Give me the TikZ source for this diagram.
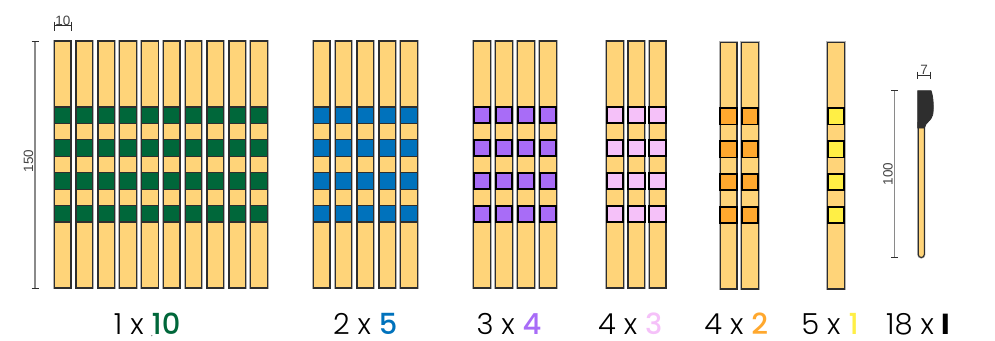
\documentclass[tikz,border=0pt]{standalone}
\usepackage{fontspec}
\setmainfont{Liberation Sans}
\newfontfamily\lblfont{Poppins}[UprightFont=* Light, BoldFont=* Medium]
\newfontfamily\lblIfont{Poppins}[UprightFont=* Bold]
\definecolor{stripY}{HTML}{FFD479}
\definecolor{bandG}{HTML}{00673A}
\definecolor{bandB}{HTML}{0072BC}
\definecolor{bandP}{HTML}{A86CF7}
\definecolor{bandK}{HTML}{F5C1F9}
\definecolor{bandO}{HTML}{FFA82E}
\definecolor{bandY}{HTML}{FFEF45}
\definecolor{edgeC}{HTML}{2E2E2E}
\definecolor{dimC}{HTML}{8A8A8A}
\definecolor{dimT}{HTML}{444444}
\newcommand{\mystrip}[6]{%
  \pgfmathsetmacro{\stripU}{(#3-#2)/150}%
  \draw[stripbody] (#1,#2) rectangle ({#1+16.6},#3);
  \foreach \kk in {40,60,80,100}{%
    \draw[fill=#4,draw=#5,line width=#6] (#1,{#2+\kk*\stripU}) rectangle ({#1+16.6},{#2+(\kk+10)*\stripU});
  }%
}
\begin{document}
\begin{tikzpicture}[x=1pt,y=-1pt,
  stripbody/.style={fill=stripY,draw=edgeC,line width=1.3pt,preaction={draw=black!30,line width=2.6pt}},
  dimline/.style={draw=dimC,line width=1.2pt},
  dimtick/.style={draw=edgeC,line width=0.9pt},
  dimtext/.style={text=dimT,font=\fontsize{13.5}{13.5}\selectfont,inner sep=0.5pt},
  lbltext/.style={font=\lblfont\fontsize{29}{30}\selectfont,inner sep=0pt,anchor=base,text depth=0pt}]
\useasboundingbox (0,0) rectangle (995,340);

% group 1: 1 x 10
\foreach \i in {0,...,9}{\mystrip{54.3+21.82*\i}{41}{288}{bandG}{edgeC}{1.3pt}}
% group 2: 2 x 5
\foreach \i in {0,...,4}{\mystrip{313.3+21.85*\i}{41}{288}{bandB}{edgeC}{1.3pt}}
% group 3: 3 x 4
\foreach \i in {0,...,3}{\mystrip{473.7+22*\i}{41}{288}{bandP}{black}{1.8pt}}
% group 4: 4 x 3
\foreach \i in {0,...,2}{\mystrip{606.7+21.3*\i}{41}{288}{bandK}{black}{1.8pt}}
% group 5: 4 x 2
\foreach \i in {0,...,1}{\mystrip{720.3+21.4*\i}{42.3}{289}{bandO}{black}{1.8pt}}
% group 6: 5 x 1
\mystrip{827.7}{42.3}{289}{bandY}{black}{1.8pt}

% spatula
\draw[fill=stripY,draw=edgeC,line width=1.1pt,preaction={draw=black!30,line width=2.2pt}]
  (918.3,122) -- (918.3,254.5) arc[start angle=180,end angle=0,radius=3] -- (924.3,122);
\draw[fill=edgeC,draw=edgeC,line width=0.8pt]
  (917.7,90.7) -- (931,90.7) .. controls (933.5,97) and (933.8,110) .. (932.6,115)
  .. controls (931.2,121) and (925.5,122) .. (924.3,128) -- (917.7,128) -- cycle;

% dimension 150
\coordinate (d150a) at (35,41);
\coordinate (d150b) at (35,288);
\coordinate (d150aL) at (31.5,41);
\coordinate (d150aR) at (38.5,41);
\coordinate (d150bL) at (31.5,288);
\coordinate (d150bR) at (38.5,288);
\draw[dimline] (d150a) -- (d150b);
\draw[dimtick] (d150aL) -- (d150aR);
\draw[dimtick] (d150bL) -- (d150bR);
\node[dimtext,rotate=90] (t150) at (28.5,161) {150};

% dimension 10
\coordinate (d10a) at (54.3,25.5);
\coordinate (d10b) at (71.7,25.5);
\coordinate (d10aT) at (54.3,21.5);
\coordinate (d10aB) at (54.3,30.5);
\coordinate (d10bT) at (71.7,21.5);
\coordinate (d10bB) at (71.7,30.5);
\draw[dimline,draw=edgeC,line width=0.8pt] (d10a) -- (d10b);
\draw[dimtick] (d10aT) -- (d10aB);
\draw[dimtick] (d10bT) -- (d10bB);
\node[dimtext,anchor=south] (t10) at (63,26) {10};

% dimension 100
\coordinate (d100a) at (894.3,90.7);
\coordinate (d100b) at (894.3,257.3);
\coordinate (d100aL) at (891,90.7);
\coordinate (d100aR) at (897.6,90.7);
\coordinate (d100bL) at (891,257.3);
\coordinate (d100bR) at (897.6,257.3);
\draw[dimline] (d100a) -- (d100b);
\draw[dimtick] (d100aL) -- (d100aR);
\draw[dimtick] (d100bL) -- (d100bR);
\node[dimtext,rotate=90] (t100) at (888,174) {100};

% dimension 7
\coordinate (d7a) at (917.3,75);
\coordinate (d7b) at (930,75);
\coordinate (d7aT) at (917.3,71.5);
\coordinate (d7aB) at (917.3,79);
\coordinate (d7bT) at (930,71.5);
\coordinate (d7bB) at (930,79);
\draw[dimline,draw=edgeC,line width=0.8pt] (d7a) -- (d7b);
\draw[dimtick] (d7aT) -- (d7aB);
\draw[dimtick] (d7bT) -- (d7bB);
\node[dimtext,anchor=south] (t7) at (924,75.5) {7};

% labels
\node[lbltext] (L1) at (147.2,334) {1 x {\bfseries\color{bandG}10}};
\fill[black!45] (151.7,335.6) circle (0.8);
\node[lbltext] (L2) at (365.3,334) {2 x {\bfseries\color{bandB}5}};
\node[lbltext] (L3) at (509,334) {3 x {\bfseries\color{bandP}4}};
\node[lbltext] (L4) at (630.3,334) {4 x {\bfseries\color{bandK}3}};
\node[lbltext] (L5) at (736.3,334) {4 x {\bfseries\color{bandO}2}};
\node[lbltext] (L6) at (830,334) {5 x {\bfseries\color{bandY}1}};
\node[lbltext] (L7) at (918.3,334) {18 x {\lblIfont I}};
\end{tikzpicture}
\end{document}
